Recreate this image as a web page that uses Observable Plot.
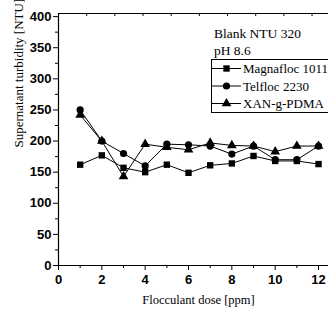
<!DOCTYPE html>
<html><head><meta charset="utf-8">
<script src="https://cdn.jsdelivr.net/npm/d3@7"></script>
<script src="https://cdn.jsdelivr.net/npm/@observablehq/plot@0.6"></script>
<style>html,body{margin:0;padding:0;background:#fff} svg{display:block}
g[aria-label="y-axis tick label"] text, g[aria-label="x-axis tick label"] text {font-weight:bold;}
</style>
</head><body><div id="chart"></div>
<script>
const doses = [1,2,3,4,5,6,7,8,9,10,11,12];
const magnafloc = [162,177,157,150,162,149,161,164,176,168,168,163];
const telfloc = [250,200,180,160,195,194,192,179,192,170,170,192];
const xan = [242,200,143,195,190,186,197,193,192,183,192,192];
const seriesNames = ["Magnafloc 1011","Telfloc 2230","XAN-g-PDMA"];
const seriesValues = [magnafloc, telfloc, xan];
const symbols = ["square","circle","triangle"];
const yTicks = [0,50,100,150,200,250,300,350,400];
const yMinor = [25,75,125,175,225,275,325,375];
const xTicks = [0,2,4,6,8,10,12];
const xMinor = [1,3,5,7,9,11];
const topTicks = [1.3,2.6,3.9,5.2,6.5,7.8,9.1,10.4,11.7];
const annotation = ["Blank NTU 320","pH 8.6"];
const xLabel = "Flocculant dose [ppm]";
const yLabel = "Supernatant turbidity [NTU]";

const rows = [];
seriesNames.forEach((s,i)=>doses.forEach((d,j)=>rows.push({series:s, dose:d, value:seriesValues[i][j]})));

const serif = "'Liberation Serif','Times New Roman',serif";
const sans = "'Liberation Sans',Arial,sans-serif";
const yMax = 405;

const chart = Plot.plot({
  width:328, height:310,
  marginLeft:58, marginRight:0, marginTop:13, marginBottom:45,
  x:{domain:[0,12.46]},
  y:{domain:[0,yMax]},
  symbol:{domain:seriesNames, range:symbols},
  style:{fontFamily:sans, background:"#fff", color:"black"},
  marks:[
    Plot.axisY({ticks:yTicks, tickSize:5, tickPadding:2, fontSize:13, fontWeight:"bold", label:null}),
    Plot.axisY({ticks:yMinor, tickSize:3, text:null, label:null}),
    Plot.axisX({ticks:xTicks, tickSize:5, tickPadding:4, fontSize:13, fontWeight:"bold", label:null}),
    Plot.axisX({ticks:xMinor, tickSize:3, text:null, label:null}),
    Plot.ruleX(topTicks, {x:d=>d, y1:yMax, y2:yMax-4.8, stroke:"black"}),
    Plot.ruleY([0, yMax], {stroke:"black", strokeWidth:1.2}),
    Plot.ruleX([0], {stroke:"black", strokeWidth:1.2}),
    Plot.line(rows, {x:"dose", y:"value", z:"series", stroke:"black", strokeWidth:1}),
    Plot.dot(rows, {x:"dose", y:"value", symbol:"series", fill:"black", stroke:"none", r:3.6}),
    Plot.text([yLabel], {text:d=>d, frameAnchor:"left", rotate:-90, dx:-40, dy:8, fontFamily:serif, fontSize:13, fill:"black"}),
    Plot.text([xLabel], {text:d=>d, frameAnchor:"bottom", dx:5, dy:38, fontFamily:serif, fontSize:12.5, fill:"black"})
  ]
});
document.getElementById("chart").appendChild(chart);

// annotation + legend
const svg = d3.select(chart);
const g = svg.append("g").attr("font-family", serif).attr("font-size", 13.5).attr("fill", "black").attr("text-anchor","start");
annotation.forEach((t,i)=>g.append("text").attr("x",214).attr("y",38+i*17).attr("text-anchor","start").text(t));
const lg = svg.append("g").attr("font-family", serif).attr("font-size", 13).attr("text-anchor","start");
lg.append("rect").attr("x",211.5).attr("y",59.5).attr("width",140).attr("height",53).attr("fill","white").attr("stroke","black").attr("stroke-width",1);
seriesNames.forEach((s,i)=>{
  const cy = 68.5 + i*17.5;
  lg.append("line").attr("x1",212).attr("x2",241).attr("y1",cy).attr("y2",cy).attr("stroke","black");
  lg.append("path").attr("d", d3.symbol(i===0?d3.symbolSquare:i===1?d3.symbolCircle:d3.symbolTriangle, Math.PI*3.6*3.6)()).attr("transform",`translate(226.5,${cy})`).attr("fill","black");
  lg.append("text").attr("x",243).attr("y",cy+4.5).attr("text-anchor","start").attr("fill","black").text(s);
});
</script></body></html>
